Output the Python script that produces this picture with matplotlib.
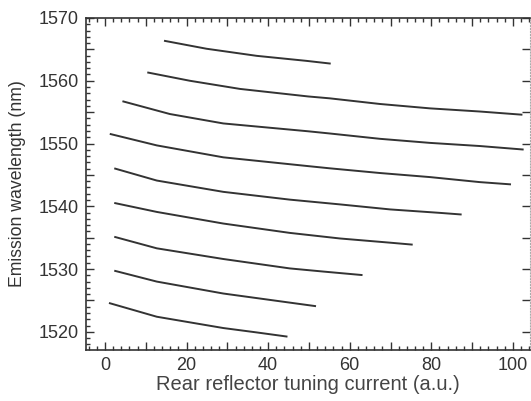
import numpy as np
import matplotlib.pyplot as plt
from matplotlib.ticker import MultipleLocator, FuncFormatter

plt.rcParams['font.family'] = ['Liberation Sans', 'DejaVu Sans']

# tuning current (a.u.) and emission wavelength (nm)
x1 = [14.7, 24.9, 37.2, 49.4, 55.1]
y1 = [1566.35, 1565.1, 1563.97, 1563.17, 1562.75]
x2 = [10.6, 20.8, 33.1, 49.8, 55.1, 67.4, 79.7, 91.9, 102.1]
y2 = [1561.3, 1560.0, 1558.7, 1557.5, 1557.2, 1556.3, 1555.6, 1555.1, 1554.6]
x3 = [4.5, 15.9, 29.0, 49.8, 55.1, 67.4, 79.7, 91.9, 102.4]
y3 = [1556.7, 1554.7, 1553.2, 1551.95, 1551.6, 1550.75, 1550.1, 1549.6, 1549.05]
x4 = [1.4, 12.7, 29.0, 49.8, 55.1, 67.4, 79.7, 91.9, 99.3]
y4 = [1551.5, 1549.7, 1547.8, 1546.4, 1546.05, 1545.3, 1544.65, 1543.85, 1543.5]
x5 = [2.5, 12.7, 29.0, 45.3, 57.6, 69.9, 82.1, 87.2]
y5 = [1546.0, 1544.1, 1542.3, 1541.06, 1540.3, 1539.5, 1538.95, 1538.7]
x6 = [2.5, 12.7, 29.0, 45.3, 57.6, 69.9, 75.2]
y6 = [1540.5, 1539.1, 1537.25, 1535.76, 1534.87, 1534.2, 1533.9]
x7 = [2.5, 12.7, 29.0, 45.3, 53.5, 62.9]
y7 = [1535.1, 1533.3, 1531.6, 1530.1, 1529.6, 1529.05]
x8 = [2.5, 12.7, 29.0, 45.3, 51.5]
y8 = [1529.7, 1528.0, 1526.1, 1524.65, 1524.1]
x9 = [1.2, 12.7, 29.0, 37.2, 44.5]
y9 = [1524.55, 1522.4, 1520.6, 1519.9, 1519.25]

curves = [(x1, y1), (x2, y2), (x3, y3), (x4, y4), (x5, y5),
          (x6, y6), (x7, y7), (x8, y8), (x9, y9)]

fig = plt.figure(figsize=(5.31, 4.01), dpi=100)
ax = fig.add_axes([86 / 531, 1 - 350 / 401, 444 / 531, 332 / 401])

for xs, ys in curves:
    ax.plot(xs, ys, color='#333333', lw=1.4)

ax.set_xlim(-4.66, 104.2)
ax.set_ylim(1517.1, 1570)

ax.xaxis.set_major_locator(MultipleLocator(10))
ax.xaxis.set_minor_locator(MultipleLocator(2))
ax.xaxis.set_major_formatter(FuncFormatter(lambda v, p: '%d' % v if round(v) % 20 == 0 else ''))
ax.yaxis.set_major_locator(MultipleLocator(5))
ax.yaxis.set_minor_locator(MultipleLocator(1))
ax.yaxis.set_major_formatter(FuncFormatter(lambda v, p: '%d' % v if round(v) % 10 == 0 else ''))

ax.tick_params(which='both', direction='in', top=True, right=True,
               colors='#333333', labelsize=13, width=1)
ax.tick_params(which='major', length=6, pad=5)
ax.tick_params(which='minor', length=3, right=False)

for s in ['left', 'bottom', 'top']:
    ax.spines[s].set_color('#333333')
    ax.spines[s].set_linewidth(1.2)
ax.spines['right'].set_color('#aaaaaa')
ax.spines['right'].set_linestyle(':')

ax.set_xlabel('Rear reflector tuning current (a.u.)', fontsize=14.5, color='#444444', labelpad=1)
ax.set_ylabel('Emission wavelength (nm)', fontsize=12.7, color='#333333', labelpad=9)

fig.savefig('out.png', dpi=100)
